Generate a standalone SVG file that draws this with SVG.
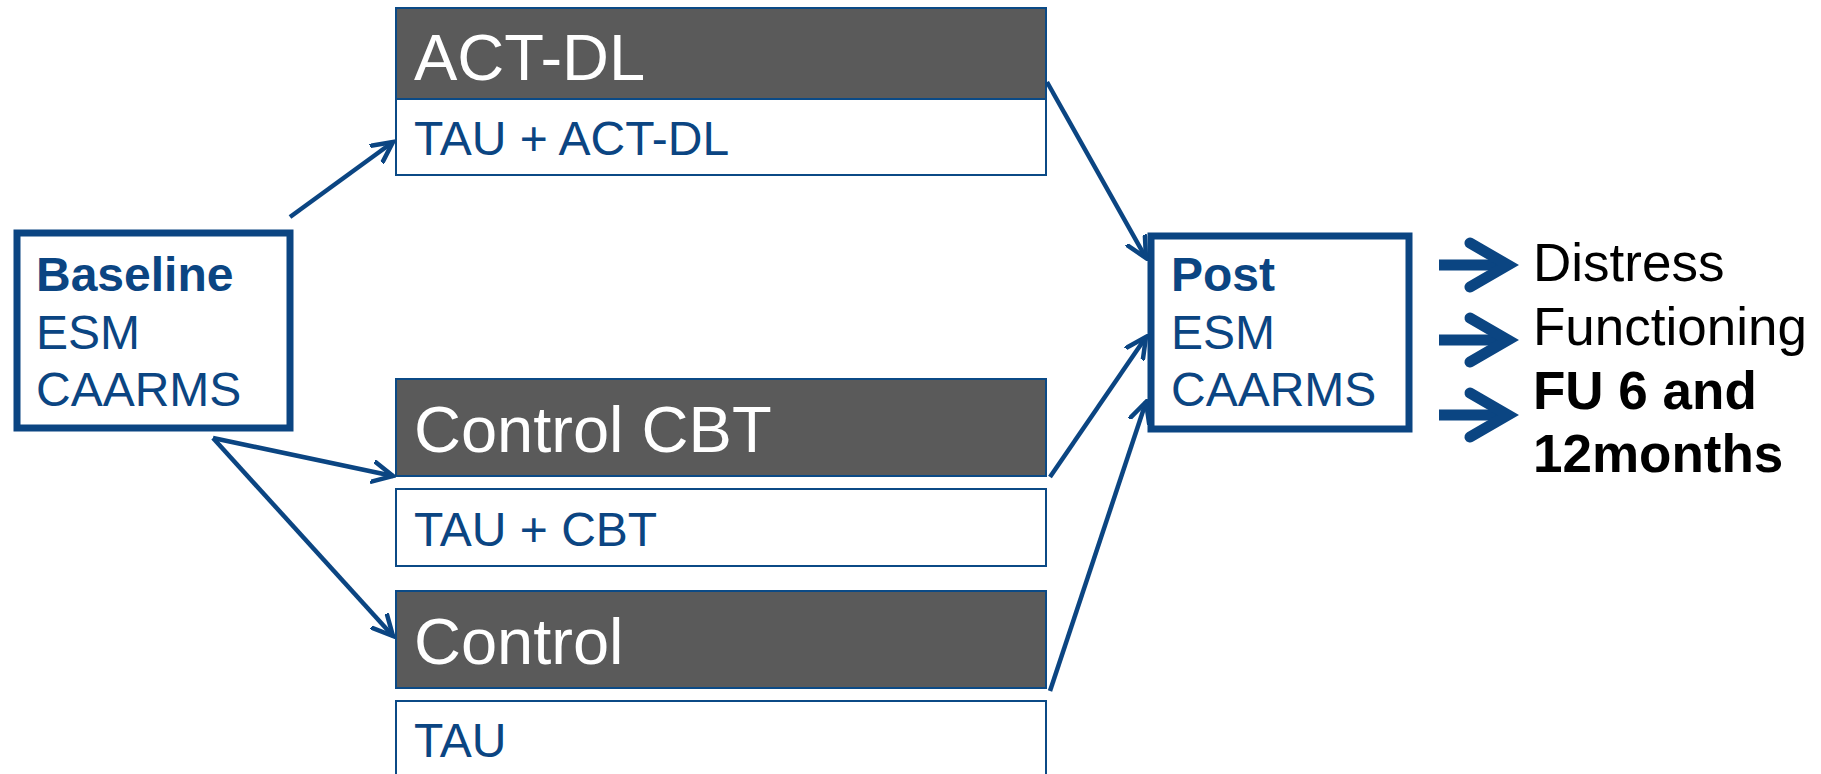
<svg xmlns="http://www.w3.org/2000/svg" width="1821" height="774" viewBox="0 0 1821 774">
<defs>
<style>
.hdr{fill:#5a5a5a;stroke:#0b4a86;stroke-width:2}
.sub{fill:#ffffff;stroke:#0b4a86;stroke-width:2}
.big{fill:#ffffff;font-family:"Liberation Sans",Arial,sans-serif;font-size:65px}
.lbl{fill:#0b4582;font-family:"Liberation Sans",Arial,sans-serif;font-size:48px}
.box{fill:#ffffff;stroke:#0b4582;stroke-width:7}
.nt{fill:#0b4582;font-family:"Liberation Sans",Arial,sans-serif;font-size:48px}
.out{fill:#000000;font-family:"Liberation Sans",Arial,sans-serif;font-size:53px}
.b{font-weight:bold}
.conn{fill:none;stroke:#0b4582;stroke-width:4.5}
.blk{fill:none;stroke:#0b4582;stroke-width:11}
</style>
<marker id="ah" markerUnits="userSpaceOnUse" viewBox="0 0 24 24" markerWidth="24" markerHeight="24" refX="21" refY="12" orient="auto">
<path d="M1,2 L21,12 L1,22" fill="none" stroke="#0b4582" stroke-width="4.5" stroke-linecap="round"/>
</marker>
</defs>
<rect width="1821" height="774" fill="#ffffff"/>

<g id="baseline">
<rect class="box" x="17" y="233" width="273" height="195"/>
<text class="nt b" x="36" y="291">Baseline</text>
<text class="nt" x="36" y="349">ESM</text>
<text class="nt" x="36" y="406">CAARMS</text>
</g>

<g id="act-dl">
<rect class="hdr" x="396" y="8" width="650" height="91"/>
<text class="big" x="414" y="80">ACT-DL</text>
</g>
<g id="tau-act-dl">
<rect class="sub" x="396" y="99" width="650" height="76"/>
<text class="lbl" x="414" y="155">TAU + ACT-DL</text>
</g>

<g id="control-cbt">
<rect class="hdr" x="396" y="379" width="650" height="97"/>
<text class="big" x="414" y="452">Control CBT</text>
</g>
<g id="tau-cbt">
<rect class="sub" x="396" y="489" width="650" height="77"/>
<text class="lbl" x="414" y="546">TAU + CBT</text>
</g>

<g id="control">
<rect class="hdr" x="396" y="591" width="650" height="97"/>
<text class="big" x="414" y="664">Control</text>
</g>
<g id="tau">
<rect class="sub" x="396" y="701" width="650" height="90"/>
<text class="lbl" x="414" y="757">TAU</text>
</g>

<g id="post">
<rect class="box" x="1151" y="236" width="258" height="193"/>
<text class="nt b" x="1171" y="291">Post</text>
<text class="nt" x="1171" y="349">ESM</text>
<text class="nt" x="1171" y="406">CAARMS</text>
</g>

<g id="outcomes">
<text class="out" x="1533" y="281">Distress</text>
<text class="out" x="1533" y="345">Functioning</text>
<text class="out b" x="1533" y="409">FU 6 and</text>
<text class="out b" x="1533" y="472">12months</text>
</g>

<g id="connectors">
<line class="conn" x1="290" y1="217" x2="393" y2="142" marker-end="url(#ah)"/>
<line class="conn" x1="213" y1="438" x2="393" y2="476" marker-end="url(#ah)"/>
<line class="conn" x1="213" y1="438" x2="393" y2="636" marker-end="url(#ah)"/>
<line class="conn" x1="1047" y1="82" x2="1146" y2="258" marker-end="url(#ah)"/>
<line class="conn" x1="1050" y1="477" x2="1146" y2="337" marker-end="url(#ah)"/>
<line class="conn" x1="1050" y1="691" x2="1146" y2="402" marker-end="url(#ah)"/>
<g id="block-arrows">
<line class="blk" x1="1439" y1="265" x2="1500" y2="265"/>
<path class="blk" d="M1470,243 L1508,265 L1470,287" stroke-linecap="round"/>
<line class="blk" x1="1439" y1="340" x2="1500" y2="340"/>
<path class="blk" d="M1470,318 L1508,340 L1470,362" stroke-linecap="round"/>
<line class="blk" x1="1439" y1="415" x2="1500" y2="415"/>
<path class="blk" d="M1470,393 L1508,415 L1470,437" stroke-linecap="round"/>
</g>
</g>
</svg>
